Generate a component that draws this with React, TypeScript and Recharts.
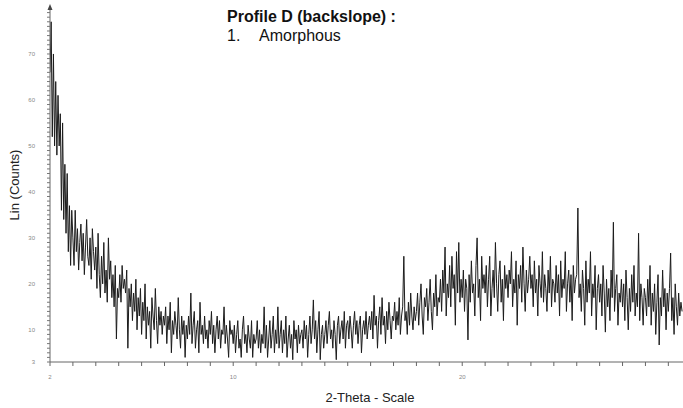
import React from 'react';
import { LineChart, Line, XAxis, YAxis } from 'recharts';

// Scan step (degrees 2-theta) and segments of measured counts
const STEP = 0.05;

const seg1Start = 2; // 2.00 - 5.95
const seg1Counts = [
  66, 77, 52, 70, 50, 64, 48, 61, 50, 57, 36, 55, 34, 46, 31, 44, 27, 37, 24, 36,
  30, 24, 36, 27, 32, 23, 29, 33, 25, 31, 22, 28, 34, 26, 24, 30, 21, 32, 27, 23,
  28, 19, 31, 22, 17, 26, 20, 29, 18, 23, 16, 30, 21, 25, 17, 22, 15, 24, 8, 19,
  17, 22, 16, 24, 19, 21, 18, 23, 6, 19, 15, 20, 12, 18, 14, 21, 10, 17, 13, 19,
];

const seg2Start = 6; // 6.00 - 9.95
const seg2Counts = [
  9, 16, 12, 20, 8, 15, 11, 14, 6, 17, 13, 10, 19, 12, 7, 15, 11, 14, 9, 13,
  11, 15, 7, 13, 10, 16, 5, 12, 9, 14, 11, 8, 17, 10, 6, 13, 9, 12, 4, 11,
  8, 13, 9, 18, 7, 11, 14, 6, 10, 12, 5, 16, 9, 11, 7, 13, 8, 10, 6, 12,
  9, 14, 7, 11, 5, 10, 13, 8, 12, 6, 10, 9, 15, 7, 11, 8, 4, 12, 9, 10,
];

const seg3Start = 10; // 10.00 - 13.95
const seg3Counts = [
  7, 11, 5, 9, 12, 6, 8, 4, 10, 13, 7, 9, 5, 11, 8, 6, 12, 4, 9, 7,
  8, 12, 6, 10, 5, 9, 7, 15, 6, 11, 4, 8, 12, 6, 9, 13, 5, 10, 7, 15,
  6, 9, 12, 5, 10, 7, 13, 4, 8, 11, 6, 9, 3.5, 12, 8, 10, 5, 11, 7, 9,
  10, 6, 12, 8, 11, 4, 9, 13, 7, 10, 16.5, 8, 12, 5, 10, 14, 3.5, 9, 11, 6,
];

const seg4Start = 14; // 14.00 - 17.95
const seg4Counts = [
  9, 12, 7, 11, 14, 8, 10, 6, 12, 9, 3.5, 11, 13, 7, 10, 12, 8, 14, 6, 11,
  12, 8, 13, 10, 6, 11, 14, 9, 12, 7, 11, 13, 5, 10, 12, 9, 14, 8, 11, 13,
  10, 14, 8, 17.5, 11, 13, 6, 12, 15, 9, 17, 11, 13, 7, 14, 10, 16, 12, 8, 13,
  12, 16, 10, 14, 11, 17, 9, 13, 15, 26, 12, 14, 9, 16, 11, 18, 13, 10, 15, 12,
];

const seg5Start = 18; // 18.00 - 21.95
const seg5Counts = [
  14, 18, 11, 16, 20, 13, 9, 17, 15, 19, 12, 16, 21, 14, 10, 18, 15, 22, 13, 17,
  16, 21, 14, 23, 18, 28, 13, 20, 17, 24, 15, 26, 19, 22, 11, 27, 18, 29, 16, 21,
  17, 23, 14, 21, 19, 7.8, 22, 16, 25, 18, 20, 13, 24, 30, 17, 21, 12, 26, 19, 22,
  18, 24, 15, 21, 26, 13, 19, 23, 17, 29, 20, 14, 22, 25, 16, 21, 12, 24, 19, 22,
];

const seg6Start = 22; // 22.00 - 25.95
const seg6Counts = [
  17, 23, 20, 27, 15, 21, 18, 25, 11, 22, 19, 24, 16, 28, 20, 14, 23, 18, 21, 26,
  19, 22, 15, 25, 18, 21, 13, 24, 20, 17, 27, 16, 22, 19, 14, 23, 18, 26, 15, 21,
  20, 16, 24, 18, 22, 13, 25, 17, 21, 19, 27, 14, 20, 23, 16, 22, 12, 24, 18, 21,
  22, 36.5, 17, 20, 14, 23, 19, 11, 25, 16, 21, 18, 27, 13, 20, 17, 24, 10, 19, 22,
];

const seg7Start = 26; // 26.00 - 29.60
const seg7Counts = [
  16, 20, 13, 24, 18, 9.5, 21, 15, 19, 12, 23, 17, 33.4, 14, 19, 22, 11, 18, 16, 21,
  15, 20, 12, 23, 17, 10, 19, 14, 22, 16, 24, 13, 18, 15, 31, 12, 20, 17, 11, 19,
  17, 13, 21, 15, 24, 11, 18, 14, 20, 9, 16, 22, 6.7, 17, 13, 23, 15, 19, 10, 18,
  14, 19, 26.7, 12, 17, 9, 20, 15, 11, 18, 13, 16, 14,
];

const segments = [
  { start: seg1Start, counts: seg1Counts },
  { start: seg2Start, counts: seg2Counts },
  { start: seg3Start, counts: seg3Counts },
  { start: seg4Start, counts: seg4Counts },
  { start: seg5Start, counts: seg5Counts },
  { start: seg6Start, counts: seg6Counts },
  { start: seg7Start, counts: seg7Counts },
];

const xTicks = [2, 3, 4, 5, 6, 7, 8, 9, 10, 11, 12, 13, 14, 15, 16, 17, 18, 19, 20, 21, 22, 23, 24, 25, 26, 27, 28, 29];
const xTickLabels = [2, 10, 20];
const yTicks = Array.from({ length: 77 }, (_, i) => 3 + i);
const yTickLabels = [3, 10, 20, 30, 40, 50, 60, 70];

const titleLine1 = 'Profile D (backslope) :';
const titleNum = '1.';
const titleLine2 = 'Amorphous';
const yAxisTitle = 'Lin (Counts)';
const xAxisTitle = '2-Theta - Scale';

const data = segments.flatMap(({ start, counts }) =>
  counts.map((c, i) => ({ theta: Math.round((start + i * STEP) * 100) / 100, counts: c }))
);

const FONT = '"Liberation Sans", Arial, "DejaVu Sans", sans-serif';

export default function App() {
  return (
    <div style={{ position: 'absolute', left: 0, top: 0, width: 683, height: 408, background: '#fff', fontFamily: FONT }}>
      <LineChart width={683} height={408} data={data} margin={{ top: 8, right: 0, bottom: 0, left: 0 }}>
        <XAxis
          type="number"
          dataKey="theta"
          domain={[2, 29.64]}
          allowDataOverflow
          ticks={xTicks}
          interval={0}
          tickFormatter={(v: number) => (xTickLabels.includes(v) ? String(v) : '')}
          height={46}
          tickSize={4}
          tickMargin={9}
          axisLine={{ stroke: '#666' }}
          tickLine={{ stroke: '#666' }}
          tick={{ fontSize: 6, fill: '#888', fontFamily: FONT }}
        />
        <YAxis
          type="number"
          domain={[3, 80]}
          allowDataOverflow
          ticks={yTicks}
          interval={0}
          tickFormatter={(v: number) => (yTickLabels.includes(v) ? String(v) : '')}
          width={50}
          tickSize={3}
          tickMargin={12}
          axisLine={{ stroke: '#666' }}
          tickLine={{ stroke: '#777' }}
          tick={{ fontSize: 6, fill: '#888', fontFamily: FONT }}
        />
        <Line
          type="linear"
          dataKey="counts"
          stroke="#1c1c1c"
          strokeWidth={1}
          dot={false}
          isAnimationActive={false}
        />
      </LineChart>
      <svg width={683} height={408} style={{ position: 'absolute', left: 0, top: 0, pointerEvents: 'none' }}>
        <polygon points="47.5,10 52.5,10 50,4" fill="#444" />
        <text x={227} y={22} fontSize={16} fontWeight="bold" fill="#111" fontFamily={FONT}>{titleLine1}</text>
        <text x={227} y={41} fontSize={16} fill="#111" fontFamily={FONT}>{titleNum}</text>
        <text x={259} y={41} fontSize={16} fill="#111" fontFamily={FONT}>{titleLine2}</text>
        <text x={19} y={185} fontSize={13} fill="#222" fontFamily={FONT} textAnchor="middle" transform="rotate(-90 19 185)">{yAxisTitle}</text>
        <text x={370} y={402} fontSize={13} fill="#222" fontFamily={FONT} textAnchor="middle">{xAxisTitle}</text>
      </svg>
    </div>
  );
}
